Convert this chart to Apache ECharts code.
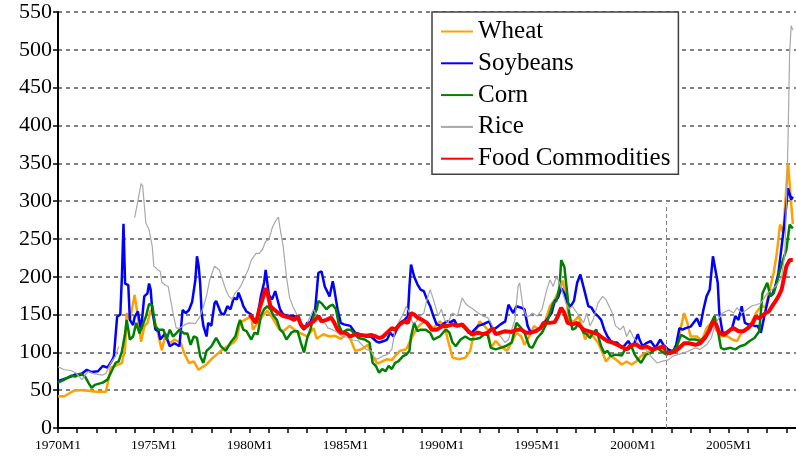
<!DOCTYPE html>
<html>
<head>
<meta charset="utf-8">
<script src="https://cdn.jsdelivr.net/npm/echarts@6/dist/echarts.min.js"></script>
<style>
  html, body { margin: 0; padding: 0; background: #fff; }
  #main { width: 796px; height: 458px; }
</style>
</head>
<body>
<div id="main"></div>
<script>
    // x = months since 1970M1, y = index value
    var wheat = [[0,42],[4,42],[8,47],[11,50],[16,50],[20,49],[24,48],[30,48],[32,68],[33,80],[36,82],[40,86],[42,105],[43,152],[45,143],[48,176],[50,147],[52,114],[54,134],[56,139],[58,156],[60,145],[62,130],[65,103],[67,121],[70,112],[73,117],[77,112],[79,99],[82,86],[85,88],[88,77],[90,80],[93,84],[97,93],[102,102],[106,108],[110,113],[112,119],[114,139],[117,143],[121,148],[122,130],[125,139],[128,148],[131,155],[133,150],[135,143],[138,132],[141,128],[145,135],[148,130],[152,125],[156,121],[160,132],[162,118],[166,124],[170,121],[173,122],[177,118],[181,125],[183,118],[186,102],[190,104],[194,110],[197,95],[200,85],[203,88],[206,91],[209,90],[211,95],[214,102],[218,104],[220,113],[222,121],[224,130],[226,135],[229,141],[232,137],[235,132],[239,141],[242,135],[244,117],[247,93],[251,91],[255,93],[258,102],[260,121],[264,141],[266,137],[269,130],[271,106],[274,115],[277,108],[281,102],[284,113],[287,126],[290,121],[292,110],[295,121],[298,135],[301,130],[304,135],[308,161],[311,170],[314,183],[316,195],[318,174],[320,143],[323,141],[326,148],[330,117],[332,126],[335,121],[338,113],[341,99],[343,88],[346,95],[349,91],[353,84],[356,88],[359,84],[362,88],[365,95],[368,99],[372,103],[377,106],[381,99],[385,100],[388,110],[390,134],[392,152],[394,139],[396,121],[400,121],[403,115],[406,132],[409,139],[412,130],[415,121],[418,123],[422,117],[425,115],[428,126],[431,132],[434,139],[437,152],[440,161],[443,160],[445,178],[448,205],[450,231],[452,269],[454,258],[456,319],[457,350],[459,297],[460,270]];

    var soybeans = [[0,62],[4,65],[8,68],[11,71],[14,70],[18,77],[21,74],[25,75],[28,82],[31,80],[34,90],[35,95],[37,147],[39,150],[40,200],[41,270],[42,191],[44,189],[45,143],[47,136],[48,147],[50,154],[52,130],[54,174],[56,178],[57,191],[58,183],[59,156],[61,130],[63,128],[64,117],[67,125],[70,108],[73,112],[76,108],[78,156],[80,152],[82,156],[84,167],[86,196],[87,227],[88,215],[89,191],[90,150],[91,135],[93,121],[94,139],[96,135],[98,165],[99,168],[102,152],[104,150],[106,161],[108,157],[110,172],[112,170],[113,179],[115,168],[116,161],[118,154],[121,150],[123,139],[125,148],[127,174],[129,192],[130,209],[132,176],[134,170],[136,181],[138,165],[139,157],[141,150],[145,148],[148,148],[150,146],[152,135],[154,130],[156,139],[158,140],[161,157],[163,205],[165,207],[167,187],[170,174],[172,194],[173,183],[175,157],[177,139],[179,137],[183,135],[186,126],[189,124],[193,121],[196,121],[199,115],[201,113],[204,115],[206,117],[208,126],[210,121],[212,130],[214,139],[217,143],[219,148],[220,187],[221,216],[223,200],[225,190],[227,183],[229,181],[231,170],[233,161],[235,148],[237,137],[240,135],[242,139],[244,141],[246,140],[248,143],[250,135],[252,137],[255,132],[257,126],[259,126],[263,135],[266,137],[268,139],[270,141],[272,130],[274,132],[277,137],[280,141],[282,163],[285,152],[287,161],[290,159],[292,157],[294,135],[296,126],[298,128],[301,130],[303,135],[306,143],[309,152],[311,168],[313,172],[315,185],[317,178],[319,165],[321,161],[323,168],[325,192],[327,203],[330,178],[332,161],[334,159],[336,152],[338,148],[340,143],[342,130],[344,121],[346,115],[348,113],[350,113],[353,106],[355,110],[357,115],[359,108],[361,113],[363,124],[364,117],[366,108],[368,112],[371,115],[374,106],[377,117],[379,110],[382,104],[385,101],[387,110],[389,132],[391,130],[393,132],[396,134],[400,145],[402,134],[404,156],[406,174],[408,183],[410,227],[411,227],[413,192],[414,152],[416,126],[418,126],[422,132],[424,148],[426,143],[428,161],[430,139],[432,137],[434,137],[436,135],[438,135],[440,126],[443,156],[445,174],[447,176],[449,187],[451,205],[453,240],[455,275],[457,317],[459,302],[460,306]];

    var corn = [[0,60],[4,64],[8,69],[11,68],[14,72],[17,68],[19,60],[21,53],[23,57],[28,60],[31,64],[34,77],[36,86],[38,88],[40,101],[42,125],[43,143],[45,117],[47,121],[49,139],[51,125],[55,147],[57,164],[59,162],[61,134],[63,130],[66,130],[68,117],[70,130],[72,121],[74,125],[76,130],[79,125],[81,125],[83,110],[85,121],[87,119],[89,95],[91,86],[93,102],[96,108],[99,119],[102,108],[105,102],[108,113],[111,121],[113,137],[114,143],[116,130],[118,128],[121,117],[123,126],[125,124],[127,148],[129,157],[131,161],[133,157],[135,148],[137,143],[139,130],[141,126],[143,117],[146,126],[148,128],[150,128],[152,113],[154,100],[156,119],[158,130],[160,148],[162,157],[163,168],[165,165],[168,157],[170,161],[172,163],[174,157],[176,135],[178,126],[181,130],[183,130],[185,126],[188,119],[192,117],[195,113],[197,86],[199,82],[201,73],[203,78],[205,75],[207,82],[209,78],[211,86],[213,88],[216,95],[218,97],[220,102],[221,121],[223,139],[225,128],[227,130],[230,130],[233,126],[235,117],[239,121],[241,126],[243,130],[245,126],[247,113],[249,108],[252,117],[255,121],[258,117],[262,118],[264,119],[267,124],[269,123],[271,106],[274,104],[277,106],[280,108],[284,113],[287,139],[290,132],[292,126],[295,108],[297,106],[300,119],[303,126],[306,139],[308,152],[310,165],[312,168],[314,187],[315,222],[317,213],[319,174],[320,152],[322,130],[324,132],[326,139],[329,126],[331,124],[333,119],[335,126],[337,130],[340,108],[342,99],[344,102],[346,95],[349,97],[353,96],[355,104],[357,104],[359,108],[361,97],[363,91],[365,86],[368,97],[371,99],[375,106],[378,101],[381,97],[384,101],[387,106],[390,123],[392,121],[395,117],[399,117],[402,115],[406,123],[409,139],[411,148],[413,130],[415,106],[417,104],[421,106],[424,104],[427,108],[430,110],[433,115],[436,119],[439,128],[441,178],[444,192],[446,174],[448,178],[450,192],[452,209],[454,223],[456,236],[458,269],[460,264]];

    // rice has a break in 1973
    var rice = [[0,81],[4,77],[8,76],[11,73],[15,64],[17,70],[19,75],[22,72],[25,71],[28,70],[30,72],[33,86],[36,95],[38,108],[39,'-'],[48,278],[50,300],[52,323],[53,320],[55,271],[57,262],[59,240],[60,214],[62,210],[64,207],[65,193],[67,189],[69,187],[72,152],[74,132],[76,132],[79,136],[82,139],[86,138],[89,148],[91,160],[93,175],[95,196],[98,214],[101,209],[103,196],[105,183],[107,174],[109,170],[111,179],[113,183],[115,190],[117,200],[119,209],[121,222],[124,231],[126,231],[128,236],[130,247],[132,249],[134,264],[136,273],[138,279],[139,264],[141,240],[143,200],[145,172],[147,161],[150,148],[152,139],[154,135],[156,138],[158,148],[160,157],[162,148],[164,141],[167,139],[169,132],[172,130],[175,126],[178,121],[181,120],[183,117],[188,115],[193,104],[196,102],[198,93],[200,91],[203,95],[206,97],[209,104],[211,130],[213,139],[216,150],[218,161],[220,152],[222,139],[224,140],[227,148],[229,152],[231,170],[233,183],[235,170],[238,148],[240,157],[242,143],[244,139],[247,152],[250,148],[253,172],[255,165],[257,161],[260,157],[263,152],[266,148],[269,146],[271,139],[274,126],[277,121],[280,113],[282,117],[286,143],[288,187],[289,192],[291,161],[293,148],[295,148],[297,152],[300,148],[303,157],[306,183],[308,196],[310,187],[312,200],[314,192],[316,178],[318,165],[320,157],[322,161],[325,152],[329,139],[331,152],[333,135],[335,143],[338,165],[341,174],[343,170],[345,161],[347,152],[349,135],[352,130],[354,135],[356,121],[358,130],[360,121],[362,115],[364,110],[366,104],[368,104],[371,95],[375,86],[378,88],[382,90],[385,95],[388,97],[391,99],[394,101],[399,106],[402,104],[406,110],[409,119],[411,134],[413,143],[416,152],[420,156],[423,152],[425,159],[428,152],[431,156],[434,161],[437,163],[440,165],[444,178],[447,183],[450,189],[453,200],[455,231],[456,297],[457,380],[458,495],[459,532],[460,526]];

    var food = [[120,150],[121,148],[124,139],[126,157],[128,170],[130,185],[131,179],[133,161],[135,157],[138,152],[141,148],[145,146],[148,143],[150,148],[152,137],[154,132],[157,137],[160,141],[163,148],[165,141],[168,143],[171,146],[173,139],[175,130],[177,126],[180,126],[183,121],[186,124],[189,123],[193,122],[196,123],[199,121],[201,119],[203,120],[206,126],[209,132],[211,130],[214,137],[217,141],[219,139],[221,152],[223,150],[225,146],[228,143],[231,139],[234,130],[237,130],[241,135],[244,135],[247,137],[250,135],[253,137],[256,130],[259,124],[263,126],[266,124],[269,126],[272,132],[274,124],[277,126],[280,128],[284,127],[287,130],[290,130],[293,126],[296,126],[299,128],[302,132],[304,139],[308,139],[311,140],[313,148],[315,159],[317,152],[319,139],[322,137],[325,139],[329,130],[332,128],[335,126],[338,124],[341,119],[344,115],[347,113],[350,110],[354,106],[356,104],[358,108],[360,110],[362,110],[365,106],[368,108],[372,104],[376,106],[379,108],[381,101],[383,99],[386,101],[389,106],[392,112],[395,112],[399,110],[402,112],[405,119],[408,130],[410,141],[412,137],[414,126],[417,123],[421,130],[423,132],[426,128],[429,128],[432,132],[435,139],[437,148],[439,145],[443,152],[445,154],[447,161],[449,167],[451,174],[453,183],[454,182],[456,214],[458,222],[460,222]];

    var seriesNames = ['Wheat', 'Soybeans', 'Corn', 'Rice', 'Food Commodities'];
    var baseMonth = 381;   // dashed vertical marker (2001M10)

    var myChart = echarts.init(document.getElementById('main'));
    var serif = '"Liberation Serif", "Times New Roman", serif';

    function lineSeries(name, data, color, width) {
        return {
            name: name,
            type: 'line',
            data: data,
            symbol: 'none',
            connectNulls: false,
            lineStyle: { color: color, width: width },
            itemStyle: { color: color }
        };
    }

    var series = [
        lineSeries(seriesNames[0], wheat, '#ffa000', 2.5),
        lineSeries(seriesNames[1], soybeans, '#0000ff', 2.5),
        lineSeries(seriesNames[2], corn, '#008000', 2.5),
        lineSeries(seriesNames[3], rice, '#a8a8a8', 1.2),
        lineSeries(seriesNames[4], food, '#ff0000', 4)
    ];
    // vertical dashed marker
    series[4].markLine = {
        silent: true,
        symbol: 'none',
        label: { show: false },
        lineStyle: { color: '#808080', width: 1, type: [4, 3] },
        data: [[{ coord: [baseMonth, 0] }, { coord: [baseMonth, 297] }]]
    };

    option = {
        animation: false,
        backgroundColor: '#fff',
        grid: { left: 58, right: 0, top: 12, bottom: 30 },
        legend: {
            data: seriesNames,
            orient: 'vertical',
            left: 432,
            top: 12,
            padding: [7, 8, 3, 8],
            itemWidth: 32,
            itemHeight: 14,
            itemGap: 6.8,
            itemStyle: { opacity: 0 },
            backgroundColor: '#fff',
            borderColor: '#404040',
            borderWidth: 1.5,
            textStyle: { fontFamily: serif, fontSize: 25, color: '#000', lineHeight: 24 }
        },
        xAxis: {
            type: 'value',
            min: 0,
            max: 462,
            interval: 12,
            axisLine: { show: true, onZero: true, lineStyle: { color: '#000', width: 2 } },
            axisTick: { show: true, length: 5, lineStyle: { color: '#000', width: 1.5 } },
            splitLine: { show: false },
            axisLabel: {
                margin: 10,
                fontFamily: serif,
                fontSize: 13.5,
                color: '#000',
                showMaxLabel: false,
                formatter: function (v) {
                    return v % 60 === 0 ? (1970 + v / 12) + 'M1' : '';
                }
            }
        },
        yAxis: {
            type: 'value',
            min: 0,
            max: 550,
            interval: 50,
            axisLine: { show: true, lineStyle: { color: '#000', width: 2 } },
            axisTick: { show: true, length: 5, lineStyle: { color: '#000', width: 1.5 } },
            splitLine: { show: true, lineStyle: { color: '#808080', width: 2, type: [4, 4] } },
            axisLabel: { margin: 6, fontFamily: serif, fontSize: 22, color: '#000' }
        },
        series: series
    };

    myChart.setOption(option);
</script>
</body>
</html>
